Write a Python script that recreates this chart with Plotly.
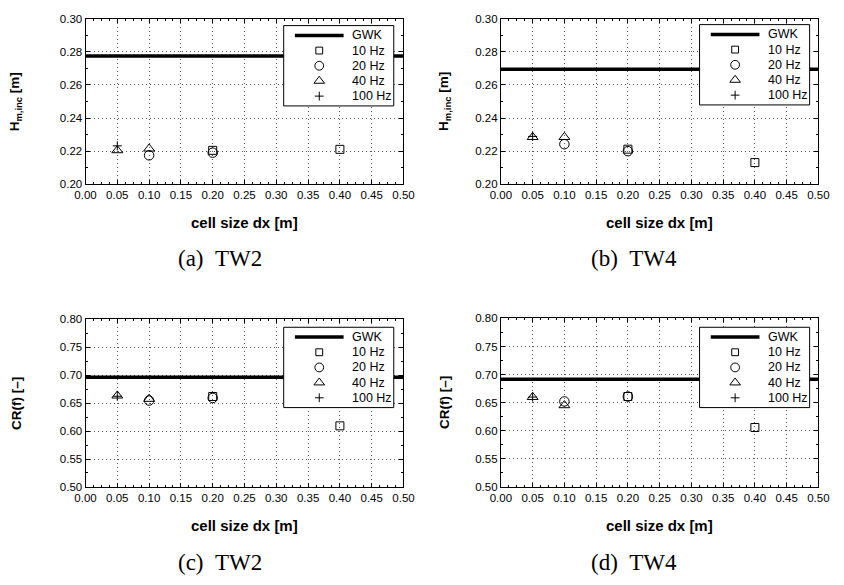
import math
import plotly.graph_objects as go

# cell sizes used for each output frequency
dx_10hz = [0.2, 0.4]
dx_20hz = [0.1, 0.2]
dx_40hz = [0.05, 0.1]
dx_100hz = [0.05]

# TW2 incident wave height [m]
tw2_h_gwk = 0.2775
tw2_h_10hz = [0.2205, 0.2211]
tw2_h_20hz = [0.2175, 0.2191]
tw2_h_40hz = [0.2205, 0.2215]
tw2_h_100hz = [0.2232]

# TW4 incident wave height [m]
tw4_h_gwk = 0.2695
tw4_h_10hz = [0.2212, 0.2131]
tw4_h_20hz = [0.2242, 0.2200]
tw4_h_40hz = [0.2285, 0.2285]
tw4_h_100hz = [0.2289]

# TW2 reflection coefficient [-]
tw2_cr_gwk = 0.6965
tw2_cr_10hz = [0.6620, 0.6094]
tw2_cr_20hz = [0.6547, 0.6594]
tw2_cr_40hz = [0.6635, 0.6576]
tw2_cr_100hz = [0.6624]

# TW4 reflection coefficient [-]
tw4_cr_gwk = 0.6919
tw4_cr_10hz = [0.6610, 0.6058]
tw4_cr_20hz = [0.6523, 0.6610]
tw4_cr_40hz = [0.6600, 0.6453]
tw4_cr_100hz = [0.6600]

series_names = ["GWK", "10 Hz", "20 Hz", "40 Hz", "100 Hz"]
x_ticks = [round(0.05 * i, 2) for i in range(11)]
h_ticks = [0.20, 0.22, 0.24, 0.26, 0.28, 0.30]
cr_ticks = [0.50, 0.55, 0.60, 0.65, 0.70, 0.75, 0.80]

W, H = 844, 585
SANS = "Liberation Sans, Arial, sans-serif"
SERIF = "Liberation Serif, Times New Roman, serif"


def px_x(p):
    return p / W


def px_y(p):
    return 1 - p / H


def pt(x, y):
    return f"{px_x(x):.5f},{px_y(y):.5f}"


panels = [
    dict(label="(a)\u2002TW2", x0=76.5, x1=403, y0=13, y1=182, gwk=tw2_h_gwk,
         s10=tw2_h_10hz, s20=tw2_h_20hz, s40=tw2_h_40hz, s100=tw2_h_100hz,
         yr=[0.20, 0.30], yt=h_ticks, ytitle="<b>H<sub>m,inc</sub> [m]</b>",
         ytx=5, leg=(280, 20), cap=(214.5, 258)),
    dict(label="(b)\u2002TW4", x0=503, x1=829, y0=13, y1=182, gwk=tw4_h_gwk,
         s10=tw4_h_10hz, s20=tw4_h_20hz, s40=tw4_h_40hz, s100=tw4_h_100hz,
         yr=[0.20, 0.30], yt=h_ticks, ytitle="<b>H<sub>m,inc</sub> [m]</b>",
         ytx=445, leg=(707, 19), cap=(640, 258)),
    dict(label="(c)\u2002TW2", x0=76.5, x1=403, y0=320, y1=491, gwk=tw2_cr_gwk,
         s10=tw2_cr_10hz, s20=tw2_cr_20hz, s40=tw2_cr_40hz, s100=tw2_cr_100hz,
         yr=[0.50, 0.80], yt=cr_ticks, ytitle="<b>CR(f) [–]</b>",
         ytx=5, leg=(280, 328), cap=(214.5, 568)),
    dict(label="(d)\u2002TW4", x0=503, x1=829, y0=319, y1=491, gwk=tw4_cr_gwk,
         s10=tw4_cr_10hz, s20=tw4_cr_20hz, s40=tw4_cr_40hz, s100=tw4_cr_100hz,
         yr=[0.50, 0.80], yt=cr_ticks, ytitle="<b>CR(f) [–]</b>",
         ytx=445, leg=(707, 328), cap=(640, 568)),
]

# legend box geometry (px)
LEG_W, LEG_H = 113, 82
LEG_ROWS = [10, 25.5, 41, 56.5, 72]
LEG_LINE = (11.5, 61.5)
LEG_SYM_X = 36.5
LEG_TEXT_X = 68.5

fig = go.Figure()
annotations = []
shapes = []
layout = {}

for i, p in enumerate(panels):
    n = "" if i == 0 else str(i + 1)
    xa, ya = "x" + n, "y" + n
    marker_line = dict(color="black", width=1)

    fig.add_trace(go.Scatter(x=[0, 0.5], y=[p["gwk"], p["gwk"]], mode="lines",
                             line=dict(color="black", width=3.5), name=series_names[0],
                             xaxis=xa, yaxis=ya, showlegend=False))
    fig.add_trace(go.Scatter(x=dx_10hz, y=p["s10"], mode="markers", name=series_names[1],
                             marker=dict(symbol="square-open", size=8, color="black",
                                         line=marker_line),
                             xaxis=xa, yaxis=ya, showlegend=False))
    fig.add_trace(go.Scatter(x=dx_20hz, y=p["s20"], mode="markers", name=series_names[2],
                             marker=dict(symbol="circle-open", size=9.5, color="black",
                                         line=marker_line),
                             xaxis=xa, yaxis=ya, showlegend=False))
    fig.add_trace(go.Scatter(x=dx_40hz, y=p["s40"], mode="markers", name=series_names[3],
                             marker=dict(symbol="triangle-up-open", size=9.5, color="black",
                                         line=marker_line),
                             xaxis=xa, yaxis=ya, showlegend=False))
    fig.add_trace(go.Scatter(x=dx_100hz, y=p["s100"], mode="markers", name=series_names[4],
                             marker=dict(symbol="cross-thin-open", size=6.5, color="black",
                                         line=marker_line),
                             xaxis=xa, yaxis=ya, showlegend=False))

    common = dict(showline=True, linecolor="black", linewidth=1, mirror="allticks",
                  ticks="inside", ticklen=4, tickcolor="black",
                  showgrid=True, gridcolor="#555", griddash="1px,3px", gridwidth=1,
                  zeroline=False, tickfont=dict(family=SANS, size=11.5, color="black"),
                  fixedrange=True)
    layout["xaxis" + n] = dict(
        common, domain=[px_x(p["x0"]), px_x(p["x1"])], range=[0, 0.5],
        tickvals=x_ticks, ticktext=[f"{v:.2f}" for v in x_ticks],
        anchor=ya, minor=dict(ticks="inside", ticklen=2, dtick=0.0125, showgrid=False,
                              tickcolor="black"))
    layout["yaxis" + n] = dict(
        common, domain=[px_y(p["y1"]), px_y(p["y0"])], range=p["yr"],
        tickvals=p["yt"], ticktext=[f"{v:.2f}" for v in p["yt"]],
        anchor=xa, minor=dict(ticks="inside", ticklen=2,
                              dtick=(p["yt"][1] - p["yt"][0]) / 2, showgrid=False,
                              tickcolor="black"))

    # legend: framed box with a sample of each series
    lx, ly = p["leg"]
    shapes.append(dict(type="rect", xref="paper", yref="paper", layer="above",
                       x0=px_x(lx), x1=px_x(lx + LEG_W), y0=px_y(ly + LEG_H), y1=px_y(ly),
                       fillcolor="white", line=dict(color="black", width=1)))
    rows = [ly + r for r in LEG_ROWS]
    sx = lx + LEG_SYM_X
    shapes.append(dict(type="line", xref="paper", yref="paper", layer="above",
                       x0=px_x(lx + LEG_LINE[0]), x1=px_x(lx + LEG_LINE[1]),
                       y0=px_y(rows[0]), y1=px_y(rows[0]),
                       line=dict(color="black", width=3.5)))
    sq = 3.5
    shapes.append(dict(type="rect", xref="paper", yref="paper", layer="above",
                       x0=px_x(sx - sq), x1=px_x(sx + sq), y0=px_y(rows[1] + sq),
                       y1=px_y(rows[1] - sq), line=dict(color="black", width=1)))
    rc = 4.5
    shapes.append(dict(type="circle", xref="paper", yref="paper", layer="above",
                       x0=px_x(sx - rc), x1=px_x(sx + rc), y0=px_y(rows[2] + rc),
                       y1=px_y(rows[2] - rc), line=dict(color="black", width=1)))
    r = 4.75
    rt = r * 2 / math.sqrt(3)
    cy = rows[3]
    shapes.append(dict(type="path", xref="paper", yref="paper", layer="above",
                       path=f"M{pt(sx - rt, cy + r / 2)} L{pt(sx + rt, cy + r / 2)} "
                            f"L{pt(sx, cy - r)} Z",
                       line=dict(color="black", width=1)))
    pl = 4.5
    cy = rows[4]
    shapes.append(dict(type="path", xref="paper", yref="paper", layer="above",
                       path=f"M{pt(sx - pl, cy)} L{pt(sx + pl, cy)} "
                            f"M{pt(sx, cy - pl)} L{pt(sx, cy + pl)}",
                       line=dict(color="black", width=1)))
    for name, ry in zip(series_names, rows):
        annotations.append(dict(text=name, x=px_x(lx + LEG_TEXT_X), y=px_y(ry),
                                xref="paper", yref="paper", showarrow=False,
                                xanchor="left", yanchor="middle",
                                font=dict(family=SANS, size=12.5, color="black")))

    xc = (p["x0"] + p["x1"]) / 2
    annotations.append(dict(text="<b>cell size dx [m]</b>", x=px_x(xc), y=px_y(p["y1"] + 39.5),
                            xref="paper", yref="paper", showarrow=False,
                            xanchor="center", yanchor="middle",
                            font=dict(family=SANS, size=15, color="black")))
    annotations.append(dict(text=p["ytitle"], x=px_x(p["ytx"]),
                            y=px_y((p["y0"] + p["y1"]) / 2),
                            xref="paper", yref="paper", showarrow=False, textangle=-90,
                            xanchor="center", yanchor="middle",
                            font=dict(family=SANS, size=13.5, color="black")))
    annotations.append(dict(text=p["label"], x=px_x(p["cap"][0]), y=px_y(p["cap"][1]),
                            xref="paper", yref="paper", showarrow=False,
                            xanchor="center", yanchor="middle",
                            font=dict(family=SERIF, size=23, color="black")))

fig.update_layout(
    width=W, height=H, autosize=False,
    margin=dict(l=0, r=0, t=0, b=0),
    paper_bgcolor="white", plot_bgcolor="white",
    showlegend=False,
    annotations=annotations, shapes=shapes,
    **layout,
)

fig.write_html("out.html")
